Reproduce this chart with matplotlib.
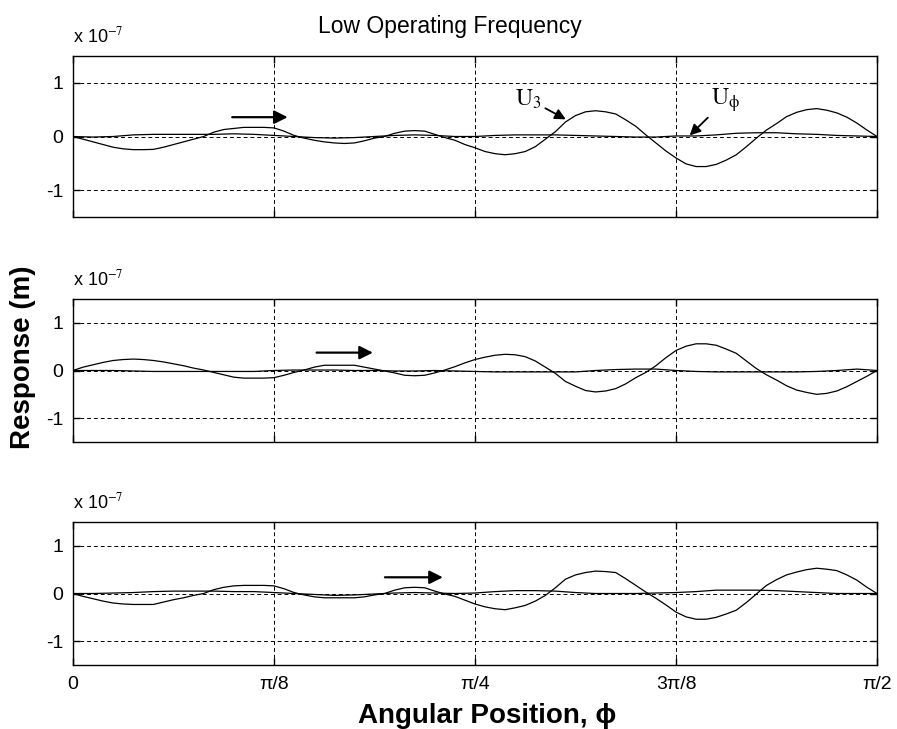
import numpy as np
import matplotlib
matplotlib.use("Agg")
import matplotlib.pyplot as plt

plt.rcParams["font.family"] = ["Liberation Sans", "DejaVu Sans"]
plt.rcParams["mathtext.fontset"] = "stix"

# Angular position as a fraction of pi/2
phi_frac_u3 = np.linspace(0.0, 1.0, 81)
phi_frac_uphi = np.linspace(0.0, 1.0, 41)

# Responses in units of 1e-7 m
u3_top = [0.00, -0.05, -0.10, -0.15, -0.20, -0.23, -0.245, -0.245, -0.24, -0.20,
          -0.15, -0.10, -0.05, 0.00, 0.08, 0.13, 0.15, 0.17, 0.17, 0.17,
          0.16, 0.10, 0.02, -0.03, -0.07, -0.10, -0.12, -0.13, -0.12, -0.08,
          -0.03, 0.00, 0.06, 0.10, 0.11, 0.10, 0.04, -0.02, -0.07, -0.15,
          -0.21, -0.28, -0.32, -0.34, -0.32, -0.28, -0.19, -0.05, 0.09, 0.27,
          0.39, 0.46, 0.48, 0.46, 0.42, 0.31, 0.19, 0.03, -0.12, -0.27,
          -0.40, -0.51, -0.56, -0.56, -0.52, -0.44, -0.34, -0.19, -0.03, 0.12,
          0.24, 0.37, 0.45, 0.50, 0.52, 0.49, 0.44, 0.36, 0.25, 0.12, 0.00]
uphi_top = [0.00, -0.01, 0.00, 0.03, 0.04, 0.04, 0.04, 0.04, 0.05, 0.04,
            0.02, 0.00, -0.02, -0.03, -0.02, 0.00, 0.02, 0.03, 0.02, 0.00,
            0.00, 0.02, 0.03, 0.03, 0.03, 0.02, 0.01, 0.00, -0.01, -0.01,
            0.01, 0.01, 0.03, 0.06, 0.07, 0.07, 0.05, 0.04, 0.02, 0.01, 0.00]

u3_mid = [0.00, 0.07, 0.12, 0.17, 0.21, 0.23, 0.24, 0.23, 0.21, 0.18,
          0.14, 0.10, 0.05, 0.01, -0.04, -0.09, -0.14, -0.16, -0.16, -0.16,
          -0.15, -0.10, -0.04, 0.01, 0.07, 0.11, 0.11, 0.11, 0.11, 0.07,
          0.03, -0.01, -0.05, -0.10, -0.11, -0.10, -0.05, 0.01, 0.08, 0.16,
          0.23, 0.28, 0.32, 0.34, 0.33, 0.29, 0.20, 0.07, -0.06, -0.23,
          -0.33, -0.42, -0.45, -0.43, -0.38, -0.28, -0.15, -0.04, 0.10, 0.27,
          0.42, 0.51, 0.56, 0.56, 0.53, 0.45, 0.36, 0.20, 0.04, -0.09,
          -0.20, -0.32, -0.41, -0.46, -0.50, -0.48, -0.43, -0.34, -0.23, -0.12, 0.00]
uphi_mid = [0.00, 0.00, 0.00, -0.01, -0.02, -0.02, -0.02, -0.02, -0.02, -0.02,
            0.00, 0.01, 0.01, 0.01, 0.00, 0.00, -0.01, -0.01, 0.00, -0.01,
            -0.02, -0.03, -0.03, -0.03, -0.03, -0.03, 0.00, 0.02, 0.03, 0.03,
            0.00, -0.02, -0.03, -0.03, -0.03, -0.03, -0.03, -0.02, 0.00, 0.03, 0.00]

u3_bot = [0.00, -0.06, -0.11, -0.16, -0.20, -0.22, -0.23, -0.23, -0.23, -0.18,
          -0.13, -0.09, -0.04, 0.00, 0.08, 0.13, 0.16, 0.17, 0.17, 0.17,
          0.16, 0.10, 0.02, -0.03, -0.07, -0.09, -0.09, -0.09, -0.09, -0.07,
          -0.03, 0.00, 0.07, 0.12, 0.13, 0.12, 0.05, -0.01, -0.06, -0.14,
          -0.22, -0.28, -0.32, -0.34, -0.30, -0.25, -0.16, -0.04, 0.12, 0.30,
          0.39, 0.44, 0.47, 0.46, 0.44, 0.31, 0.17, 0.03, -0.10, -0.24,
          -0.39, -0.49, -0.54, -0.54, -0.50, -0.43, -0.35, -0.19, -0.01, 0.17,
          0.29, 0.39, 0.45, 0.50, 0.53, 0.51, 0.48, 0.39, 0.28, 0.13, 0.00]
uphi_bot = [0.00, 0.00, 0.01, 0.02, 0.04, 0.05, 0.05, 0.05, 0.04, 0.04,
            0.02, 0.00, -0.02, -0.04, -0.03, -0.01, 0.01, 0.02, 0.01, 0.00,
            0.01, 0.04, 0.06, 0.06, 0.05, 0.02, 0.00, 0.00, 0.00, 0.01,
            0.02, 0.04, 0.07, 0.07, 0.07, 0.06, 0.04, 0.02, 0.00, 0.00, 0.00]

xtick_vals = [0, np.pi / 8, np.pi / 4, 3 * np.pi / 8, np.pi / 2]
xtick_labels = ["0", "π/8", "π/4", "3π/8", "π/2"]
ytick_vals = [-1, 0, 1]
ytick_labels = ["-1", "0", "1"]

# Start/end of the horizontal direction arrows (fraction of pi/2, value)
arrow_tails = [(0.198, 0.36), (0.303, 0.375), (0.388, 0.34)]
arrow_heads = [(0.267, 0.36), (0.373, 0.375), (0.460, 0.34)]

phi_u3 = phi_frac_u3 * np.pi / 2
phi_uphi = phi_frac_uphi * np.pi / 2

fig = plt.figure(figsize=(8.97, 7.29), dpi=100)
positions = [
    [73 / 897, 1 - 217 / 729, 804 / 897, 161 / 729],
    [73 / 897, 1 - 442 / 729, 804 / 897, 143 / 729],
    [73 / 897, 1 - 665 / 729, 804 / 897, 143 / 729],
]
series = [(u3_top, uphi_top), (u3_mid, uphi_mid), (u3_bot, uphi_bot)]

axes = []
for i, (pos, (u3, uphi)) in enumerate(zip(positions, series)):
    ax = fig.add_axes(pos)
    ax.plot(phi_u3, u3, color="k", lw=0.9, zorder=3)
    ax.plot(phi_uphi, uphi, color="k", lw=0.9, zorder=3)
    ax.set_xlim(0, np.pi / 2)
    ax.set_ylim(-1.5, 1.5)
    ax.set_xticks(xtick_vals)
    ax.set_yticks(ytick_vals)
    ax.set_yticklabels(ytick_labels)
    if i == 2:
        ax.set_xticklabels(xtick_labels)
    else:
        ax.set_xticklabels([])
    ax.grid(True, color="k", ls=(0, (4, 3)), lw=0.7)
    ax.tick_params(direction="in", length=5, width=1, top=True, right=True,
                   labelsize=14, pad=7)
    ax.tick_params(axis="x", pad=8)
    for sp in ax.spines.values():
        sp.set_linewidth(1)
    ax.annotate(r"x 10$^{-7}$", xy=(0, 1), xycoords="axes fraction",
                xytext=(0, 7), textcoords="offset points",
                fontsize=13, va="bottom", ha="left")
    (tx, ty), (hx, hy) = arrow_tails[i], arrow_heads[i]
    ax.annotate("", xy=(hx * np.pi / 2, hy), xytext=(tx * np.pi / 2, ty),
                arrowprops=dict(arrowstyle="-|>", color="k", lw=1.6,
                                mutation_scale=20, shrinkA=0, shrinkB=0))
    axes.append(ax)

top = axes[0]
top.annotate(r"$\mathrm{U}_{3}$", xy=(0.613 * np.pi / 2, 0.32),
             xytext=(0.566 * np.pi / 2, 0.70), fontsize=17, ha="center", va="center",
             arrowprops=dict(arrowstyle="-|>", color="k", lw=1.3,
                             mutation_scale=16, shrinkA=1, shrinkB=0))
top.annotate(r"$\mathrm{U}_{\mathrm{ϕ}}$", xy=(0.767 * np.pi / 2, 0.02),
             xytext=(0.812 * np.pi / 2, 0.68), fontsize=17, ha="center", va="center",
             arrowprops=dict(arrowstyle="-|>", color="k", lw=1.3,
                             mutation_scale=16, shrinkA=1, shrinkB=0))

fig.text(0.501, 1 - 33 / 729, "Low Operating Frequency", fontsize=16.5,
         ha="center", va="baseline")
fig.text(23 / 897, 1 - 357 / 729, "Response (m)", fontsize=20, fontweight="bold",
         rotation=90, ha="center", va="center")
fig.text(487 / 897, 1 - 723 / 729, "Angular Position, ϕ", fontsize=20,
         fontweight="bold", ha="center", va="baseline")

fig.savefig("out.png", dpi=100)
